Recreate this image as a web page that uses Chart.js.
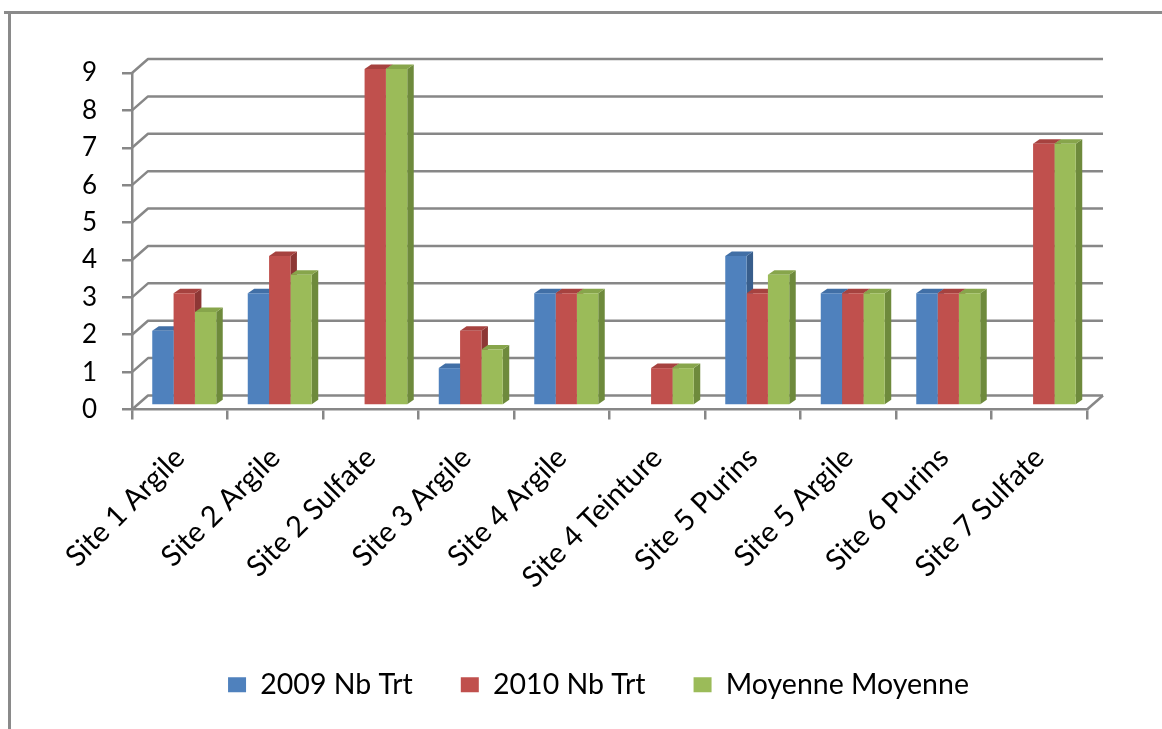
<!DOCTYPE html>
<html>
<head>
<meta charset="utf-8">
<script src="https://cdn.jsdelivr.net/npm/chart.js@4.4.1/dist/chart.umd.min.js"></script>
<style>
  html, body { margin: 0; padding: 0; background: #ffffff; }
  canvas { display: block; }
</style>
</head>
<body>
<canvas id="chart" width="1162" height="729"></canvas>
<script>
// Categories and series
const categories = [
  'Site 1 Argile', 'Site 2 Argile', 'Site 2 Sulfate', 'Site 3 Argile', 'Site 4 Argile',
  'Site 4 Teinture', 'Site 5 Purins', 'Site 5 Argile', 'Site 6 Purins', 'Site 7 Sulfate'
];
const nbTrt2009 = [2, 3, null, 1, 3, null, 4, 3, 3, null];
const nbTrt2010 = [3, 4, 9, 2, 3, 1, 3, 3, 3, 7];
const moyenne   = [2.5, 3.5, 9, 1.5, 3, 1, 3.5, 3, 3, 7];
const seriesNames = ['2009 Nb Trt', '2010 Nb Trt', 'Moyenne Moyenne'];
const yTickValues = [0, 1, 2, 3, 4, 5, 6, 7, 8, 9];

// Styling
const FONT = 'Lato';
const AXIS_GREY = '#878787';
const faceColors = [
  { front: '#4F81BD', side: '#385E8C', top: '#416FA6' },
  { front: '#C0504D', side: '#8D3735', top: '#A6423F' },
  { front: '#9BBB59', side: '#6E8A3C', top: '#87A54B' }
];
const WALL = { dx: 16, dy: -14 };      // depth of the back wall
const BAR_SHIFT = { dx: 4.5, dy: -4 }; // bars sit slightly behind the front axis
const BAR_DEPTH = { dx: 6.5, dy: -4.5 };

// Frame around the chart object
const framePlugin = {
  id: 'frame',
  beforeDraw(chart) {
    const ctx = chart.ctx;
    ctx.save();
    ctx.fillStyle = '#8a8a8a';
    ctx.fillRect(4, 11, chart.width, 3);
    ctx.fillRect(8, 11, 3, chart.height);
    ctx.restore();
  }
};

// Back wall gridlines, floor edges and the 3D sides/tops of the columns
const depthPlugin = {
  id: 'depth3d',
  beforeDatasetsDraw(chart) {
    const ctx = chart.ctx;
    const y = chart.scales.y;
    const area = chart.chartArea;
    ctx.save();
    ctx.strokeStyle = AXIS_GREY;
    ctx.lineWidth = 2.5;
    ctx.lineJoin = 'round';
    yTickValues.forEach(v => {
      const py = y.getPixelForValue(v);
      ctx.beginPath();
      ctx.moveTo(area.left, py);
      ctx.lineTo(area.left + WALL.dx, py + WALL.dy);
      ctx.lineTo(area.right + WALL.dx, py + WALL.dy);
      ctx.stroke();
    });
    // right edge of the floor
    const p0 = y.getPixelForValue(0);
    ctx.beginPath();
    ctx.moveTo(area.right, p0);
    ctx.lineTo(area.right + WALL.dx, p0 + WALL.dy);
    ctx.stroke();
    ctx.restore();

    // columns are drawn in a plane slightly behind the front axis
    ctx.save();
    ctx.translate(BAR_SHIFT.dx, BAR_SHIFT.dy);
    const metas = chart.data.datasets.map((d, i) => chart.getDatasetMeta(i));
    for (let c = 0; c < categories.length; c++) {
      metas.forEach((meta, di) => {
        const el = meta.data[c];
        const raw = chart.data.datasets[di].data[c];
        if (!el || raw === null || raw === undefined) return;
        const { x, y: top, base, width } = el.getProps(['x', 'y', 'base', 'width'], true);
        const left = x - width / 2, right = x + width / 2;
        ctx.fillStyle = faceColors[di].side;
        ctx.beginPath();
        ctx.moveTo(right, top);
        ctx.lineTo(right + BAR_DEPTH.dx, top + BAR_DEPTH.dy);
        ctx.lineTo(right + BAR_DEPTH.dx, base + BAR_DEPTH.dy);
        ctx.lineTo(right, base);
        ctx.closePath();
        ctx.fill();
        ctx.fillStyle = faceColors[di].top;
        ctx.beginPath();
        ctx.moveTo(left, top);
        ctx.lineTo(left + BAR_DEPTH.dx, top + BAR_DEPTH.dy);
        ctx.lineTo(right + BAR_DEPTH.dx, top + BAR_DEPTH.dy);
        ctx.lineTo(right, top);
        ctx.closePath();
        ctx.fill();
      });
    }
  },
  afterDatasetsDraw(chart) {
    chart.ctx.restore();
  }
};

const seriesData = [nbTrt2009, nbTrt2010, moyenne];

new Chart(document.getElementById('chart'), {
  type: 'bar',
  data: {
    labels: categories,
    datasets: seriesData.map((vals, i) => ({
      label: seriesNames[i],
      data: vals,
      backgroundColor: faceColors[i].front,
      borderWidth: 0,
      categoryPercentage: 0.67,
      barPercentage: 1.0,
      clip: false
    }))
  },
  options: {
    responsive: false,
    animation: false,
    devicePixelRatio: 1,
    layout: { padding: { left: 40, right: 5, top: 73, bottom: 20 } },
    plugins: {
      tooltip: { enabled: false },
      legend: {
        position: 'bottom',
        labels: {
          boxWidth: 18,
          boxHeight: 15,
          padding: 48,
          color: '#000',
          font: { family: FONT, size: 28.5 }
        }
      }
    },
    scales: {
      x: {
        afterFit(scale) { scale.height = 213; },
        grid: {
          offset: true,
          drawOnChartArea: false,
          tickLength: 10,
          color: AXIS_GREY,
          lineWidth: 2.5
        },
        border: { display: true, color: AXIS_GREY, width: 2.5 },
        ticks: {
          autoSkip: false,
          maxRotation: 45,
          minRotation: 45,
          padding: 21,
          color: '#000',
          font: { family: FONT, size: 29 }
        }
      },
      y: {
        min: yTickValues[0],
        max: yTickValues[yTickValues.length - 1],
        afterFit(scale) { scale.width = 92; },
        grid: {
          drawOnChartArea: false,
          tickLength: 10,
          color: AXIS_GREY,
          lineWidth: 2.5
        },
        border: { display: true, color: AXIS_GREY, width: 2.5 },
        ticks: {
          stepSize: 1,
          autoSkip: false,
          padding: 25,
          color: '#000',
          font: { family: FONT, size: 26 }
        }
      },
      // empty space on the right holding the depth of the back wall
      yRight: {
        position: 'right',
        min: 0,
        max: 9,
        afterFit(scale) { scale.width = 70; },
        grid: { display: false },
        border: { display: false },
        ticks: { display: false }
      }
    }
  },
  plugins: [framePlugin, depthPlugin]
});
</script>
</body>
</html>
